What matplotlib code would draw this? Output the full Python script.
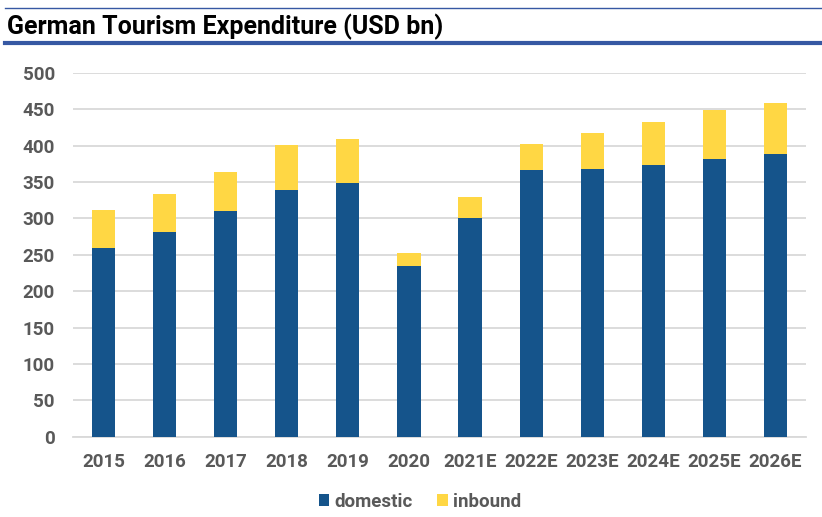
import numpy as np
import matplotlib.pyplot as plt
from matplotlib.lines import Line2D

years = ['2015', '2016', '2017', '2018', '2019', '2020',
         '2021E', '2022E', '2023E', '2024E', '2025E', '2026E']
domestic = [260, 281, 310, 339, 349, 235, 300, 367, 368, 373, 382, 388]
inbound = [51, 52, 54, 62, 60, 17, 29, 36, 50, 60, 67, 71]
y_ticks = [0, 50, 100, 150, 200, 250, 300, 350, 400, 450, 500]

c_dom = '#15548B'
c_inb = '#FFD744'
c_line = '#3658A3'
c_txt = '#595959'

plt.rcParams['font.family'] = ['Roboto', 'DejaVu Sans']

fig = plt.figure(figsize=(8.22, 5.17), dpi=100)
ax = fig.add_axes([73 / 822, 1 - 436.7 / 517, (806 - 73) / 822, (436.7 - 73) / 517])

x = np.arange(len(years))
ax.bar(x, domestic, width=0.38, color=c_dom, zorder=3, label='domestic')
ax.bar(x, inbound, width=0.38, bottom=domestic, color=c_inb, zorder=3, label='inbound')

ax.set_xlim(-0.5, len(years) - 0.5)
ax.set_ylim(0, 500)
ax.set_yticks(y_ticks)
ax.set_xticks(x)
ax.set_xticklabels(years)
ax.grid(axis='y', color='#D9D9D9', linewidth=1.3, zorder=0)
for s in ['top', 'right', 'left']:
    ax.spines[s].set_visible(False)
ax.spines['bottom'].set_color('#D9D9D9')
ax.spines['bottom'].set_linewidth(1.3)
ax.tick_params(length=0, labelsize=13.5, labelcolor=c_txt)
ax.tick_params(axis='x', pad=12)
ax.tick_params(axis='y', pad=13)
for lab in ax.get_xticklabels() + ax.get_yticklabels():
    lab.set_fontweight('bold')

leg = ax.legend(loc='center', bbox_to_anchor=((420 - 73) / 733, -(501.7 - 436.7) / 363.7),
                ncol=2, frameon=False,
                handlelength=0.55, handleheight=0.55, handletextpad=0.3, columnspacing=1.3,
                prop={'size': 13.5, 'weight': 'bold'})
for t in leg.get_texts():
    t.set_color(c_txt)

# title bar
fig.add_artist(Line2D([5 / 822, 1], [1 - 8.3 / 517] * 2, color=c_line, linewidth=1.0))
fig.add_artist(Line2D([5 / 822, 1], [1 - 42.5 / 517] * 2, color=c_line, linewidth=3.0))
fig.text(7 / 822, 1 - 27 / 517, 'German Tourism Expenditure (USD bn)', fontsize=18,
         fontweight='bold', color='black', va='center', ha='left')

fig.savefig('out.png', dpi=100)
